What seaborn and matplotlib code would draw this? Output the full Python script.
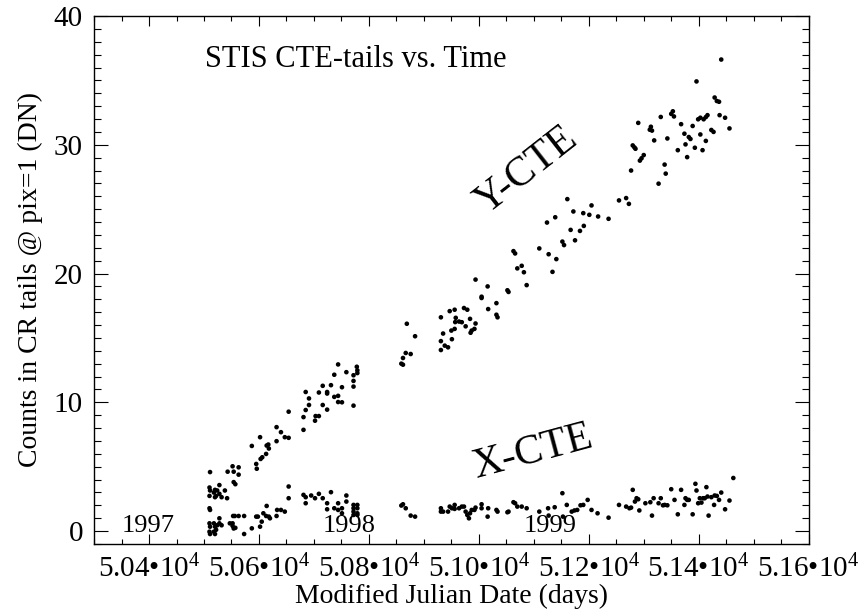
import numpy as np
import pandas as pd
import matplotlib
matplotlib.use('Agg')
import matplotlib.pyplot as plt
from matplotlib.ticker import MultipleLocator, FixedLocator, FixedFormatter
import seaborn as sns

# Y-CTE tail counts (MJD, DN)
ycte_mjd = [50511, 50510, 50511, 50510, 50518, 50520, 50520, 50524, 50528, 50528, 50532, 50522,
            50538, 50542, 50543, 50552, 50554, 50563, 50563, 50554, 50557, 50587, 50595, 50596,
            50602, 50603, 50606, 50613, 50614, 50618, 50617, 50632, 50632, 50640, 50647, 50654,
            50654, 50681, 50681, 50685, 50685, 50691, 50691, 50702, 50703, 50709, 50709, 50716,
            50716, 50724, 50724, 50724, 50731, 50737, 50737, 50744, 50744, 50744, 50751, 50751,
            50759, 50772, 50772, 50772, 50772, 50778, 50779, 50779,
            50859, 50862, 50862, 50867, 50869, 50876, 50884, 50931, 50931, 50931, 50935, 50938,
            50944, 50947, 50951, 50950, 50956, 50956, 50957, 50958, 50964, 50969, 50973, 50976,
            50979, 50984, 50985, 50987, 50992, 50994, 50994, 51005, 51005, 51016, 51017, 51032,
            51032, 51034, 51052, 51054, 51063, 51066, 51070, 51078, 51082, 51087, 51110, 51127,
            51134, 51141, 51124, 51139, 51152, 51155, 51161, 51167, 51172, 51175, 51184, 51190,
            51191, 51201, 51205, 51217, 51236,
            51255, 51268, 51273, 51277, 51280, 51283, 51285, 51290, 51293, 51296, 51300, 51311,
            51313, 51315, 51319, 51327, 51331, 51338, 51340, 51343, 51350, 51353, 51355, 51362,
            51368, 51374, 51376, 51379, 51382, 51385, 51389, 51393, 51396, 51399, 51403, 51403,
            51407, 51409, 51413, 51413, 51416, 51423, 51427, 51429, 51433, 51437, 51438, 51441,
            51448, 51456]
ycte_counts = [4.58, 3.38, 3.15, 2.73, 2.99, 3.20, 2.63, 3.15, 3.57, 2.89, 2.63, 2.73,
               3.15, 2.55, 4.61, 5.03, 4.61, 4.95, 4.38, 3.80, 3.64, 6.61, 5.21, 4.84,
               7.29, 5.60, 5.73, 5.99, 6.64, 6.41, 6.72, 8.07, 6.98, 7.68, 7.29, 7.24,
               9.27, 8.85, 7.86, 10.80, 9.40, 10.30, 9.79, 8.57, 8.93, 8.93, 10.76, 11.28,
               9.79, 10.80, 10.68, 9.43, 11.33, 12.14, 10.42, 10.50, 12.94, 10.02, 11.17, 10.00,
               12.34, 12.10, 11.66, 11.22, 9.74, 12.76, 12.48, 12.27,
               13.00, 12.92, 13.44, 13.83, 16.10, 13.75, 15.13, 16.60, 14.75, 14.06, 15.34, 14.40,
               14.27, 17.08, 14.90, 15.57, 15.70, 17.19, 16.23, 16.56, 16.27, 16.22, 17.32, 15.90,
               17.19, 16.48, 15.40, 15.57, 15.70, 19.53, 16.12, 18.20, 18.10, 19.00, 17.24, 17.70,
               16.80, 16.60, 18.70, 18.57, 21.74, 21.56, 20.40, 20.60, 20.10, 19.10, 21.95, 21.50,
               20.13, 21.12, 23.96, 24.37, 22.48, 22.21, 25.78, 23.39, 24.82, 22.58, 23.31, 24.69,
               23.70, 24.56, 25.29, 24.43, 24.25,
               25.68, 25.86, 25.41, 28.00, 29.95, 29.80, 29.69, 31.70, 28.77, 28.95, 29.20, 31.17,
               31.40, 31.10, 30.34, 26.98, 32.16, 28.46, 27.76, 30.49, 32.40, 32.60, 32.20, 29.58,
               31.60, 30.86, 30.03, 29.04, 30.60, 30.45, 31.46, 29.77, 34.92, 31.98, 32.10, 30.80,
               29.58, 31.98, 30.30, 32.15, 32.30, 31.15, 31.00, 33.67, 33.40, 33.34, 32.30, 36.62,
               32.10, 31.27]

# X-CTE tail counts (MJD, DN)
xcte_mjd = [50510, 50511, 50510, 50511, 50510, 50511, 50518, 50520, 50518, 50520, 50524, 50528,
            50528, 50532, 50522, 50547, 50552, 50553, 50556, 50563, 50573, 50552, 50557, 50554,
            50573, 50587, 50595, 50598, 50602, 50605, 50608, 50613, 50614, 50618, 50620, 50632,
            50633, 50640, 50647, 50654, 50654, 50681, 50685, 50685, 50695, 50702, 50709, 50716,
            50724, 50724, 50731, 50737, 50744, 50744, 50751, 50751, 50759, 50759, 50772, 50772,
            50772, 50772, 50779, 50779, 50779, 50779,
            50859, 50862, 50867, 50876, 50884, 50931, 50931, 50935, 50944, 50947, 50951, 50956,
            50956, 50964, 50969, 50973, 50976, 50979, 50982, 50984, 50987, 50992, 50994, 51005,
            51005, 51016, 51017, 51032, 51034, 51052, 51054, 51063, 51066, 51070, 51078, 51087,
            51110, 51126, 51127, 51138, 51152, 51153, 51160, 51169, 51174, 51179, 51185, 51190,
            51198, 51205, 51216, 51236,
            51255, 51268, 51274, 51277, 51280, 51284, 51287, 51290, 51292, 51303, 51312, 51315,
            51318, 51327, 51331, 51335, 51338, 51343, 51350, 51356, 51362, 51368, 51374, 51376,
            51379, 51382, 51389, 51394, 51396, 51399, 51402, 51405, 51408, 51411, 51414, 51418,
            51416, 51423, 51428, 51429, 51433, 51437, 51441, 51448, 51456, 51463]
xcte_counts = [1.77, 1.64, 0.60, 0.34, -0.05, -0.23, 0.60, 0.34, -0.05, -0.23, 0.45, 0.60,
               0.99, 0.45, 0.10, 0.60, 0.60, 1.17, 1.17, 1.17, 1.17, 0.40, 0.25, 0.20,
               -0.23, 0.21, 1.12, 1.12, 0.34, 0.73, 1.38, 1.17, 1.95, 1.12, 0.99, 1.17,
               1.64, 1.64, 1.51, 3.46, 2.55, 2.81, 2.16, 2.63, 2.76, 2.55, 2.89, 2.55,
               2.16, 1.69, 3.02, 1.77, 2.16, 1.64, 1.77, 1.38, 2.76, 2.29, 2.03, 1.77,
               1.51, 1.25, 2.03, 1.77, 1.38, 1.25,
               1.98, 2.08, 1.77, 1.20, 1.12, 1.51, 1.77, 1.51, 1.51, 1.90, 1.77, 2.03,
               1.72, 1.77, 1.90, 1.90, 1.51, 1.25, 0.99, 1.38, 1.64, 1.64, 1.82, 2.08,
               1.77, 1.12, 1.77, 1.64, 1.51, 1.46, 1.51, 2.24, 2.16, 1.90, 1.90, 1.77,
               1.51, 1.77, 1.20, 1.85, 2.94, 1.12, 2.03, 1.51, 1.60, 1.64, 2.00, 2.03,
               2.42, 1.64, 1.38, 1.04,
               2.03, 1.90, 1.77, 1.82, 3.20, 2.29, 2.55, 2.47, 1.60, 2.16, 2.24, 1.20,
               2.55, 2.16, 2.55, 2.00, 2.03, 2.00, 3.25, 2.42, 1.30, 3.20, 2.03, 2.55,
               2.42, 2.42, 1.30, 3.67, 3.15, 2.16, 2.55, 2.21, 2.55, 2.55, 3.41, 1.20,
               2.68, 2.63, 2.03, 2.76, 2.73, 2.42, 2.99, 1.69, 2.37, 4.12]

x_ticks = [50400, 50600, 50800, 51000, 51200, 51400, 51600]
x_tick_labels = ['5.04•10^{4}', '5.06•10^{4}', '5.08•10^{4}', '5.10•10^{4}',
                 '5.12•10^{4}', '5.14•10^{4}', '5.16•10^{4}']
y_ticks = [0, 10, 20, 30, 40]
year_labels = ['1997', '1998', '1999']
year_mjd = [50398, 50764, 51130]

df = pd.concat([
    pd.DataFrame({'mjd': ycte_mjd, 'counts': ycte_counts, 'tail': 'Y-CTE'}),
    pd.DataFrame({'mjd': xcte_mjd, 'counts': xcte_counts, 'tail': 'X-CTE'}),
], ignore_index=True)

sns.set_style('ticks')
plt.rcParams['font.family'] = ['Liberation Serif', 'DejaVu Serif']
plt.rcParams['mathtext.fontset'] = 'custom'
plt.rcParams['mathtext.rm'] = 'Liberation Serif'
plt.rcParams['axes.linewidth'] = 1.0
for key in ['text.color', 'axes.labelcolor', 'axes.edgecolor', 'xtick.color', 'ytick.color']:
    plt.rcParams[key] = 'black'

fig = plt.figure(figsize=(8.63, 6.16), dpi=100)
ax = fig.add_axes([0.109, 0.117, 0.828, 0.857])

sns.scatterplot(data=df, x='mjd', y='counts', color='black', s=11,
                edgecolor='none', legend=False, ax=ax)

ax.set_xlim(50300, 51600)
ax.set_ylim(-1, 40)
ax.xaxis.set_major_locator(FixedLocator(x_ticks))
ax.xaxis.set_major_formatter(FixedFormatter(['$\\mathregular{' + t + '}$' for t in x_tick_labels]))
ax.xaxis.set_minor_locator(MultipleLocator(50))
ax.yaxis.set_major_locator(FixedLocator(y_ticks))
ax.yaxis.set_minor_locator(MultipleLocator(1))

ax.tick_params(which='both', direction='in', top=True, right=True, width=0.8, colors='black')
ax.tick_params(axis='x', which='major', length=7.5, labelsize=21, pad=8)
ax.tick_params(axis='x', which='minor', length=3.8)
ax.tick_params(axis='y', which='major', length=10, labelsize=21, pad=8)
ax.tick_params(axis='y', which='minor', length=5)

ax.set_xlabel('Modified Julian Date (days)', fontsize=20, labelpad=0)
ax.set_ylabel('Counts in CR tails @ pix=1 (DN)', fontsize=20, labelpad=8)

ax.text(50502, 36.6, 'STIS CTE-tails vs. Time', fontsize=22, ha='left', va='center')
ax.text(51087, 28.0, 'Y-CTE', fontsize=30, rotation=38, ha='center', va='center',
        rotation_mode='anchor')
ax.text(51098, 6.1, 'X-CTE', fontsize=30, rotation=15, ha='center', va='center',
        rotation_mode='anchor')
for lab, m in zip(year_labels, year_mjd):
    ax.text(m, 0.4, lab, fontsize=19, ha='center', va='center')

fig.savefig('out.png', dpi=100)
plt.close(fig)
